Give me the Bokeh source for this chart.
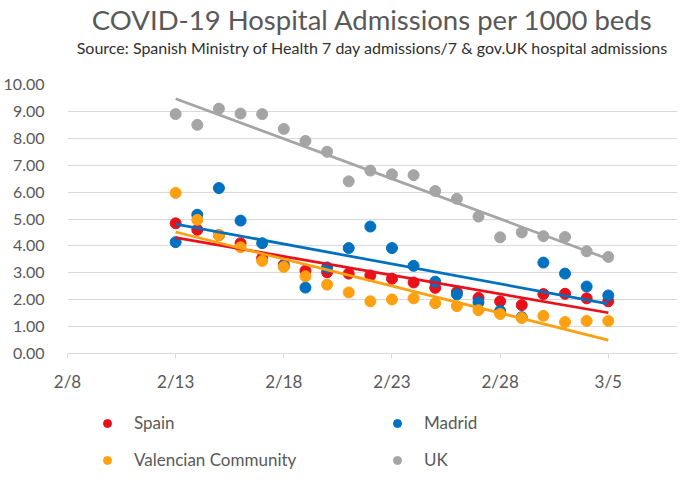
import numpy as np
from bokeh.plotting import figure
from bokeh.layouts import column
from bokeh.models import Range1d, FixedTicker, NumeralTickFormatter, Title, Legend, LegendItem
from bokeh.embed import file_html
from bokeh.resources import INLINE

# ---- data -------------------------------------------------------------
dates = ["2/13", "2/14", "2/15", "2/16", "2/17", "2/18", "2/19", "2/20", "2/21",
         "2/22", "2/23", "2/24", "2/25", "2/26", "2/27", "2/28", "3/1", "3/2",
         "3/3", "3/4", "3/5"]
spain = [4.84, 4.60, 4.40, 4.10, 3.55, 3.30, 3.08, 3.02, 2.97, 2.90, 2.78,
         2.64, 2.44, 2.28, 2.07, 1.94, 1.80, 2.21, 2.22, 2.05, 1.94]
madrid = [4.14, 5.16, 6.15, 4.94, 4.10, 3.25, 2.45, 3.20, 3.92, 4.72, 3.92,
          3.26, 2.67, 2.20, 1.90, 1.58, 1.35, 3.38, 2.97, 2.49, 2.16]
valencia = [5.97, 4.97, 4.40, 3.95, 3.44, 3.22, 2.87, 2.56, 2.27, 1.94, 2.01,
            2.05, 1.87, 1.76, 1.61, 1.47, 1.32, 1.40, 1.17, 1.21, 1.21]
uk = [8.90, 8.50, 9.10, 8.92, 8.90, 8.35, 7.90, 7.50, 6.40, 6.80, 6.66,
      6.63, 6.04, 5.75, 5.09, 4.32, 4.50, 4.36, 4.33, 3.80, 3.59]
series_names = ["Spain", "Madrid", "Valencian Community", "UK"]
series_colors = ["#E8101A", "#0070C0", "#FFA010", "#A5A5A5"]
x_tick_labels = ["2/8", "2/13", "2/18", "2/23", "2/28", "3/5"]
y_ticks = [0, 1, 2, 3, 4, 5, 6, 7, 8, 9, 10]

MONTH_START = {2: 0, 3: 28}  # days since Feb 1, 2021


def day_num(s):
    m, d = s.split("/")
    return MONTH_START[int(m)] + int(d)


xs = np.array([day_num(s) for s in dates], dtype=float)
x_ticks = [day_num(s) for s in x_tick_labels]

FONT = "Lato"
TXT = "#595959"

p = figure(width=679, height=394, output_backend="svg", toolbar_location=None,
           x_range=Range1d(x_ticks[0], x_ticks[0] + 28.2),
           y_range=Range1d(0, 10),
           min_border_left=59, min_border_right=2, min_border_top=82,
           min_border_bottom=40)
p.outline_line_color = None
p.background_fill_color = "white"
p.border_fill_color = "white"

# titles (a thin spacer keeps the subtitle away from the plot area)
spacer = Title(text=" ", text_font_size="1px", standoff=25)
p.add_layout(spacer, "above")
sub = Title(text="Source: Spanish Ministry of Health 7 day admissions/7 & gov.UK hospital admissions",
            align="center", text_font=FONT, text_font_size="16px",
            text_color="#303030", text_font_style="normal", standoff=0)
p.add_layout(sub, "above")
main = Title(text="COVID-19 Hospital Admissions per 1000 beds", align="center",
             text_font=FONT, text_font_size="27.5px", text_color=TXT,
             text_font_style="normal", standoff=0)
p.add_layout(main, "above")

# axes
p.xgrid.visible = False
p.ygrid.grid_line_color = "#D9D9D9"
p.ygrid.grid_line_width = 1
p.ygrid.ticker = FixedTicker(ticks=y_ticks)

p.yaxis.ticker = FixedTicker(ticks=y_ticks)
p.yaxis.formatter = NumeralTickFormatter(format="0.00")
p.yaxis.axis_line_color = None
p.yaxis.major_tick_line_color = None
p.yaxis.minor_tick_line_color = None
p.yaxis.major_label_standoff = 17
p.yaxis.major_label_text_font = FONT
p.yaxis.major_label_text_font_size = "16px"
p.yaxis.major_label_text_color = TXT

p.xaxis.ticker = FixedTicker(ticks=x_ticks)
p.xaxis.major_label_overrides = {t: lab for t, lab in zip(x_ticks, x_tick_labels)}
p.xaxis.axis_line_color = "#D9D9D9"
p.xaxis.major_tick_line_color = "#D9D9D9"
p.xaxis.major_tick_out = 5
p.xaxis.major_tick_in = 0
p.xaxis.minor_tick_line_color = None
p.xaxis.major_label_standoff = 12
p.xaxis.major_label_text_font = FONT
p.xaxis.major_label_text_font_size = "17px"
p.xaxis.major_label_text_color = TXT

# points
all_series = [spain, madrid, valencia, uk]
for vals, col in zip(all_series, series_colors):
    p.scatter(xs, vals, size=11, color=col, line_color=col)

# linear trend lines (least squares)
for vals, col in zip(all_series, series_colors):
    k, b = np.polyfit(xs, np.array(vals), 1)
    xe = np.array([xs[0], xs[-1]])
    p.line(xe, k * xe + b, line_color=col, line_width=2.75)

# ---- legend strip below the chart ------------------------------------
pl = figure(width=679, height=80, output_backend="svg", toolbar_location=None,
            x_range=Range1d(0, 1), y_range=Range1d(0, 1),
            x_axis_location=None, y_axis_location=None,
            min_border=0)
pl.outline_line_color = None
pl.grid.visible = False
pl.background_fill_color = "white"
pl.border_fill_color = "white"
# legend-only renderers: their single point lies outside this strip's ranges
leg_r = [pl.scatter([xs[0]], [vals[0]], size=11, color=c, line_color=c)
         for vals, c in zip(all_series, series_colors)]

# column-major fill -> order Spain, Valencian | Madrid, UK
order = [0, 2, 1, 3]
items = [LegendItem(label=series_names[i], renderers=[leg_r[i]]) for i in order]
legend = Legend(items=items, ncols=2, location=(30, 4), margin=0, padding=0,
                glyph_width=20, glyph_height=20, label_standoff=17, label_width=237,
                spacing=16, border_line_color=None, background_fill_alpha=0,
                label_text_font=FONT, label_text_font_size="17px",
                label_text_color=TXT)
pl.add_layout(legend, "center")

layout = column(p, pl, spacing=0)
open("out.html", "w").write(file_html(layout, INLINE))
